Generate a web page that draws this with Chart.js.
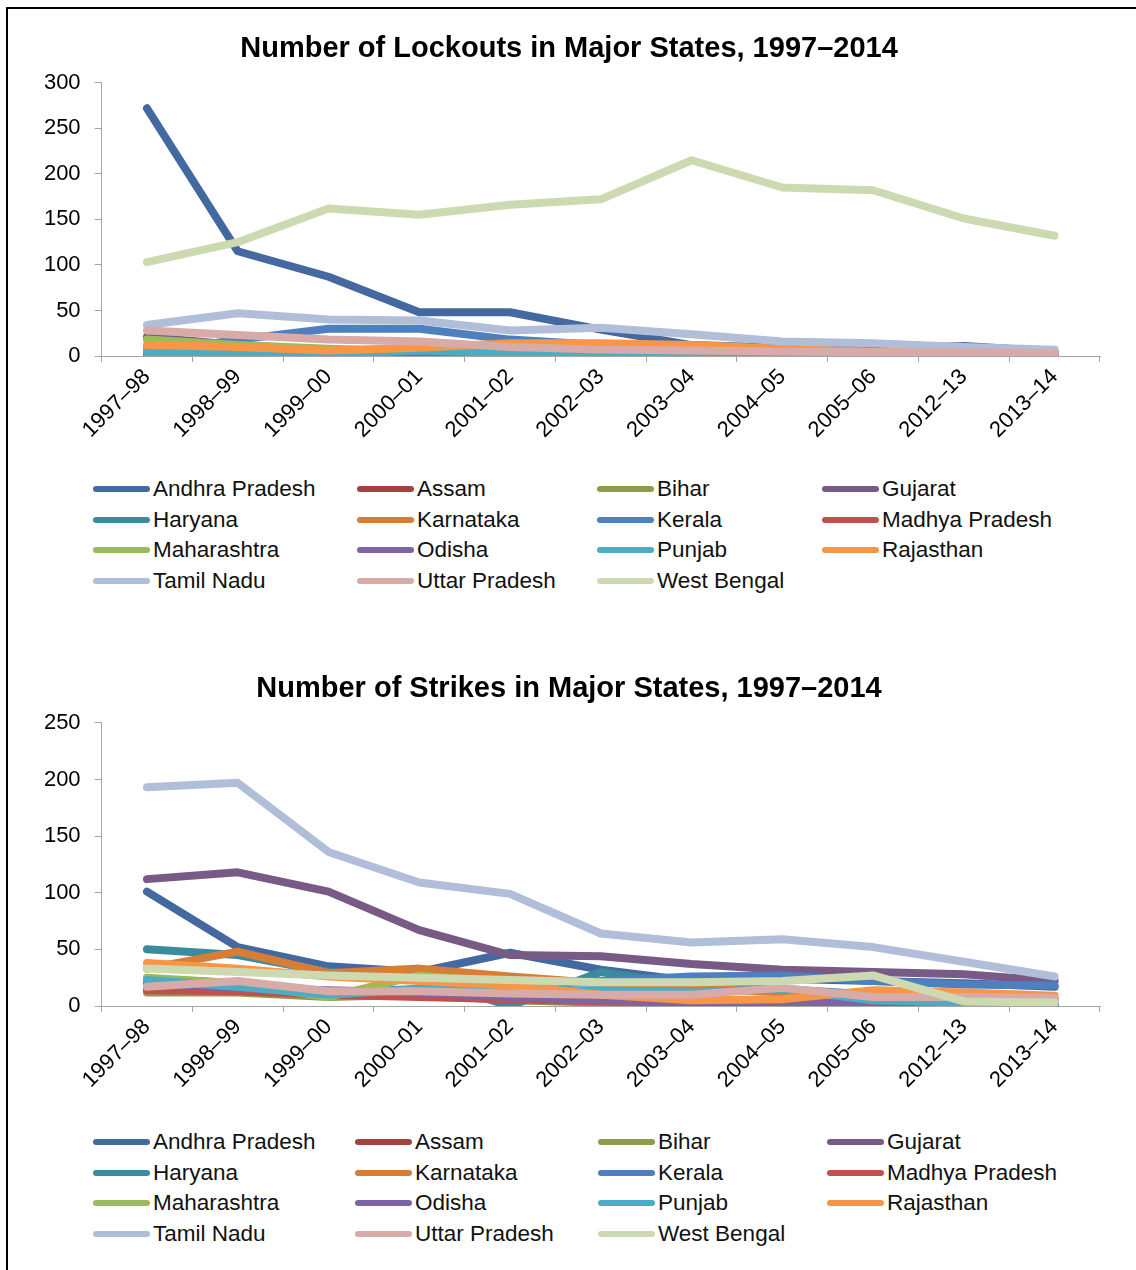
<!DOCTYPE html>
<html>
<head>
<meta charset="utf-8">
<script src="https://cdn.jsdelivr.net/npm/chart.js@4"></script>
<style>
body { margin: 0; background: #fff; font-family: "Liberation Sans", Arial, sans-serif; }
#page { position: relative; width: 1136px; height: 1270px; overflow: hidden; }
.frameTop { position: absolute; left: 6px; top: 7px; width: 1130px; height: 2px; background: #000; }
.frameLeft { position: absolute; left: 6px; top: 7px; width: 2px; height: 1263px; background: #000; }
canvas { position: absolute; left: 0; }
.legend { position: absolute; display: grid; grid-auto-rows: 30.5px; }
.item { display: flex; align-items: center; font-size: 22.5px; color: #111; white-space: nowrap; }
.swatch { display: inline-block; width: 57px; height: 6px; border-radius: 3px; margin-right: 3px; }
</style>
</head>
<body>
<div id="page">
  <div class="frameTop"></div>
  <div class="frameLeft"></div>
  <canvas id="lockoutChart" width="1136" height="441" style="top:10px"></canvas>
  <div id="lockoutLegend" class="legend" style="left:93px; top:474px; grid-template-columns: 264px 240px 225px 240px;"></div>
  <canvas id="strikeChart" width="1136" height="451" style="top:650px"></canvas>
  <div id="strikeLegend" class="legend" style="left:93px; top:1127px; grid-template-columns: 262px 243px 229px 240px;"></div>
</div>
<script>
const years = ['1997–98', '1998–99', '1999–00', '2000–01', '2001–02', '2002–03', '2003–04', '2004–05', '2005–06', '2012–13', '2013–14'];
const states = ['Andhra Pradesh', 'Assam', 'Bihar', 'Gujarat', 'Haryana', 'Karnataka', 'Kerala', 'Madhya Pradesh',
    'Maharashtra', 'Odisha', 'Punjab', 'Rajasthan', 'Tamil Nadu', 'Uttar Pradesh', 'West Bengal'];
const colors = ['#4469A0', '#A4423F', '#8E9C4C', '#775A85', '#3A8B9E', '#D67D36', '#4E7FBF', '#C0504D',
    '#9BBB59', '#8064A2', '#4BACC6', '#F79646', '#B1BED9', '#D8AAA8', '#CDDAB1'];

// lockouts
const lockoutsAndhraPradesh = [272, 115, 87, 48, 48, 29, 12, 9, 8, 11, 5];
const lockoutsAssam = [1, 1, 1, 0, 0, 0, 0, 0, 0, 0, 0];
const lockoutsBihar = [2, 1, 1, 1, 0, 0, 0, 1, 0, 0, 0];
const lockoutsGujarat = [21, 12, 6, 4, 3, 2, 2, 1, 1, 1, 1];
const lockoutsHaryana = [3, 2, 2, 1, 1, 1, 0, 0, 0, 0, 0];
const lockoutsKarnataka = [8, 6, 4, 3, 3, 3, 2, 2, 1, 1, 1];
const lockoutsKerala = [3, 18, 30, 30, 18, 12, 8, 6, 4, 6, 3];
const lockoutsMadhyaPradesh = [2, 1, 1, 0, 0, 1, 1, 0, 0, 1, 0];
const lockoutsMaharashtra = [18, 12, 8, 5, 3, 2, 1, 1, 1, 1, 0];
const lockoutsOdisha = [3, 2, 2, 1, 1, 1, 1, 0, 0, 0, 0];
const lockoutsPunjab = [4, 3, 2, 6, 3, 2, 1, 1, 1, 0, 0];
const lockoutsRajasthan = [12, 10, 6, 9, 14, 14, 12, 8, 5, 4, 3];
const lockoutsTamilNadu = [34, 47, 40, 39, 28, 31, 24, 16, 14, 10, 7];
const lockoutsUttarPradesh = [28, 23, 18, 16, 10, 7, 6, 5, 4, 4, 3];
const lockoutsWestBengal = [103, 125, 162, 155, 166, 172, 215, 185, 182, 151, 132];

// strikes
const strikesAndhraPradesh = [101, 52, 35, 30, 47, 32, 22, 24, 22, 20, 17];
const strikesAssam = [15, 14, 12, 10, 8, 5, 3, 2, 2, 1, 1];
const strikesBihar = [12, 12, 8, 10, 5, 3, 2, 1, 1, 0, 0];
const strikesGujarat = [112, 118, 101, 67, 45, 44, 37, 32, 30, 28, 22];
const strikesHaryana = [50, 45, 30, 25, 0, 30, 18, 15, 10, 6, 5];
const strikesKarnataka = [33, 48, 29, 33, 26, 20, 16, 12, 10, 8, 6];
const strikesKerala = [24, 20, 12, 15, 18, 22, 26, 27, 22, 19, 18];
const strikesMadhyaPradesh = [14, 13, 10, 8, 6, 4, 3, 2, 1, 2, 1];
const strikesMaharashtra = [25, 20, 8, 27, 20, 10, 5, 2, 1, 1, 1];
const strikesOdisha = [20, 16, 14, 12, 8, 5, 4, 3, 3, 2, 2];
const strikesPunjab = [23, 17, 10, 15, 14, 14, 12, 15, 5, 3, 2];
const strikesRajasthan = [38, 33, 26, 22, 18, 10, 5, 6, 14, 12, 9];
const strikesTamilNadu = [193, 197, 136, 109, 99, 64, 56, 59, 52, 39, 26];
const strikesUttarPradesh = [17, 22, 13, 13, 11, 10, 10, 16, 8, 8, 7];
const strikesWestBengal = [33, 30, 27, 25, 23, 21, 21, 22, 27, 4, 3];

const lockoutSeries = [lockoutsAndhraPradesh, lockoutsAssam, lockoutsBihar, lockoutsGujarat, lockoutsHaryana,
    lockoutsKarnataka, lockoutsKerala, lockoutsMadhyaPradesh, lockoutsMaharashtra, lockoutsOdisha,
    lockoutsPunjab, lockoutsRajasthan, lockoutsTamilNadu, lockoutsUttarPradesh, lockoutsWestBengal];
const strikeSeries = [strikesAndhraPradesh, strikesAssam, strikesBihar, strikesGujarat, strikesHaryana,
    strikesKarnataka, strikesKerala, strikesMadhyaPradesh, strikesMaharashtra, strikesOdisha,
    strikesPunjab, strikesRajasthan, strikesTamilNadu, strikesUttarPradesh, strikesWestBengal];

const fontFamily = '"Liberation Sans", Arial, sans-serif';
const axisGrey = '#a6a6a6';

function makeChart(canvasId, title, series, yMax) {
    const ctx = document.getElementById(canvasId).getContext('2d');
    const datasets = series.map(function(values, i) {
        return {
            label: states[i],
            data: values,
            borderColor: colors[i],
            backgroundColor: colors[i],
            borderWidth: 8,
            borderCapStyle: 'round',
            borderJoinStyle: 'round',
            pointRadius: 0,
            tension: 0,
            fill: false,
            order: states.length - i, // later states on top, like the original
        };
    });
    return new Chart(ctx, {
        type: 'line',
        data: { labels: years, datasets: datasets },
        options: {
            responsive: false,
            animation: false,
            // left padding nudges the centred title right; tick labels still fit
            layout: { padding: { left: 38, right: 36, top: 0, bottom: 0 } },
            plugins: {
                legend: { display: false },
                tooltip: { enabled: false },
                title: {
                    display: true,
                    text: title,
                    color: '#000',
                    font: { family: fontFamily, size: 29, weight: 'bold' },
                    padding: { top: 22, bottom: 16 },
                },
            },
            scales: {
                x: {
                    offset: true,
                    afterFit: function(scale) { scale.height = 95; },
                    grid: { drawOnChartArea: false, tickLength: 6, color: axisGrey, offset: true },
                    border: { color: axisGrey, width: 1 },
                    ticks: {
                        autoSkip: false,
                        minRotation: 45,
                        maxRotation: 45,
                        padding: 2,
                        color: '#000',
                        font: { family: fontFamily, size: 22 },
                    },
                },
                y: {
                    min: 0,
                    max: yMax,
                    afterFit: function(scale) { scale.width = 63.6; },
                    grid: { drawOnChartArea: false, tickLength: 7, color: axisGrey },
                    border: { color: axisGrey, width: 1 },
                    ticks: {
                        stepSize: 50,
                        padding: 14,
                        color: '#000',
                        font: { family: fontFamily, size: 22 },
                    },
                },
            },
        },
    });
}

function makeLegend(divId) {
    const box = document.getElementById(divId);
    states.forEach(function(name, i) {
        const item = document.createElement('div');
        item.className = 'item';
        const sw = document.createElement('span');
        sw.className = 'swatch';
        sw.style.background = colors[i];
        item.appendChild(sw);
        item.appendChild(document.createTextNode(name));
        box.appendChild(item);
    });
}

makeChart('lockoutChart', 'Number of Lockouts in Major States, 1997–2014', lockoutSeries, 300);
makeChart('strikeChart', 'Number of Strikes in Major States, 1997–2014', strikeSeries, 250);
makeLegend('lockoutLegend');
makeLegend('strikeLegend');
</script>
</body>
</html>
